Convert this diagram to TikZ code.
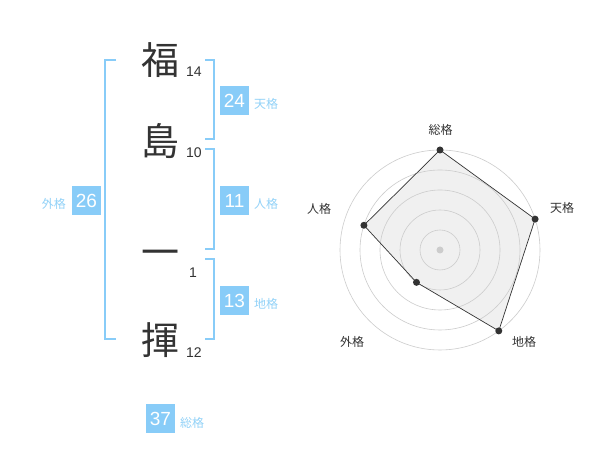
\documentclass[tikz,border=0pt]{standalone}
\usepackage{fontspec}
\setmainfont{Liberation Sans}
\newfontfamily\jpfont{Noto Sans CJK JP}
\definecolor{kakublue}{HTML}{88CCF8}
\definecolor{kakutext}{HTML}{92D2F8}
\definecolor{inkgray}{HTML}{333333}
\definecolor{ringgray}{HTML}{CCCCCC}
\definecolor{areagray}{HTML}{F0F0F0}
\tikzset{
  kanji/.style={font=\jpfont\fontsize{38}{38}\selectfont, text=inkgray, inner sep=0pt},
  strokes/.style={font=\fontsize{14}{14}\selectfont, text=inkgray, inner sep=0pt, anchor=base west},
  kakubox/.style={fill=kakublue, text=white, minimum size=29pt, inner sep=0pt, font=\fontsize{19}{19}\selectfont},
  kakuname/.style={font=\jpfont\fontsize{12}{12}\selectfont, text=kakutext, inner sep=0pt},
  bracket/.style={draw=kakublue, line width=2pt},
  ring/.style={draw=ringgray, line width=0.6pt},
  axisname/.style={font=\jpfont\fontsize{12}{12}\selectfont, text=inkgray, inner sep=0pt},
  dot/.style={circle, fill=inkgray, inner sep=0pt, minimum size=7pt},
}
\begin{document}
\begin{tikzpicture}[x=1pt,y=1pt]
      \fill[white] (0,0) rectangle (600,470);
      \useasboundingbox (0,0) rectangle (600,470);
      % name and stroke counts
      \node[kanji] (fuku) at (160,410) {福};
      \node[kanji] (shima) at (160,329) {島};
      \node[kanji] (ichi) at (160,212) {一};
      \node[kanji] (ki) at (160,130) {揮};
      \node[strokes] (fukun) at (186,393) {14};
      \node[strokes] (shiman) at (186,312) {10};
      \node[strokes] (ichin) at (189,192) {1};
      \node[strokes] (kin) at (186,112) {12};
      % brackets
      \draw[bracket] (116,410) -- (105,410) -- (105,131) -- (116,131);
      \draw[bracket] (205,410) -- (214,410) -- (214,331) -- (205,331);
      \draw[bracket] (205,321) -- (214,321) -- (214,221) -- (205,221);
      \draw[bracket] (205,211) -- (214,211) -- (214,131) -- (205,131);
      % scores
      \node[kakubox] (ten) at (234.5,369.5) {24};
      \node[kakubox] (jin) at (234.5,269.5) {11};
      \node[kakubox] (chi) at (234.5,169.5) {13};
      \node[kakubox] (gai) at (86.5,269.5) {26};
      \node[kakubox] (sou) at (160.5,51) {37};
      \node[kakuname, anchor=west] (tenname) at (254,366) {天格};
      \node[kakuname, anchor=west] (jinname) at (254,266) {人格};
      \node[kakuname, anchor=west] (chiname) at (254,166) {地格};
      \node[kakuname, anchor=east] (gainame) at (66,266) {外格};
      \node[kakuname, anchor=west] (souname) at (180,47.5) {総格};
      % radar chart
      \begin{scope}[shift={(440,220)}]
        \path
          (90:100) coordinate (p0)
          (18:100) coordinate (p1)
          (-54:100) coordinate (p2)
          (-126:40) coordinate (p3)
          (162:80) coordinate (p4);
        \fill[areagray] (p0) -- (p1) -- (p2) -- (p3) -- (p4) -- cycle;
        \draw[ring]
          (0,0) circle (20)
          (0,0) circle (40)
          (0,0) circle (60)
          (0,0) circle (80)
          (0,0) circle (100);
        \fill[ringgray] (0,0) circle (3.5);
        \draw[inkgray, line width=0.7pt] (p0) -- (p1) -- (p2) -- (p3) -- (p4) -- cycle;
        \node[dot] (d0) at (p0) {};
        \node[dot] (d1) at (p1) {};
        \node[dot] (d2) at (p2) {};
        \node[dot] (d3) at (p3) {};
        \node[dot] (d4) at (p4) {};
        \node[axisname] (a0) at (0.7,120) {総格};
        \node[axisname] (a1) at (122,42) {天格};
        \node[axisname] (a2) at (84,-92) {地格};
        \node[axisname] (a3) at (-88,-92) {外格};
        \node[axisname] (a4) at (-121,41) {人格};
      \end{scope}
    \end{tikzpicture}
\end{document}
